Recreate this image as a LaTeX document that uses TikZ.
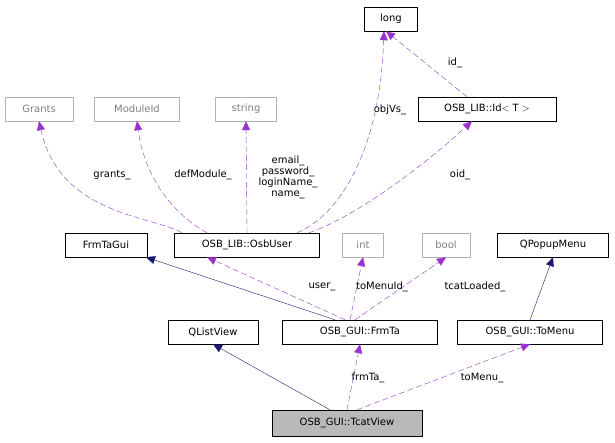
\documentclass[tikz,border=0pt]{standalone}
\usepackage{fontspec}
\setmainfont{DejaVu Sans}
\usetikzlibrary{arrows.meta}
\definecolor{pur}{HTML}{9A32CD}
\definecolor{nav}{HTML}{191970}
\begin{document}
\begin{tikzpicture}[x=1pt,y=-1pt,font=\fontsize{10}{11}\selectfont,
  box/.style={draw=black,fill=white,minimum height=24pt,inner sep=2pt},
  gbox/.style={draw=gray!60,text=gray,fill=white,minimum height=24pt,inner sep=2pt},
  use/.style={pur,dashed,dash pattern=on 6pt off 3pt,-{Triangle[length=9pt,width=8pt]}},
  inh/.style={nav,-{Triangle[length=9pt,width=8pt]}},
  lab/.style={text=black,align=center,font=\fontsize{10}{11}\selectfont}]
\useasboundingbox (0,0) rectangle (615,443);
\node[box,minimum width=53pt] (long) at (391,19) {long};
\node[box,minimum width=138pt] (id) at (487,109) {OSB\_LIB::Id$<$ T $>$};
\node[gbox,minimum width=68pt] (grants) at (39,109) {Grants};
\node[gbox,minimum width=85pt] (mod) at (137,109) {ModuleId};
\node[gbox,minimum width=61pt] (str) at (246,109) {string};
\node[box,minimum width=82pt] (gui) at (106,245) {FrmTaGui};
\node[box,minimum width=145pt] (user) at (247,245) {OSB\_LIB::OsbUser};
\node[gbox,minimum width=41pt] (int) at (363,245) {int};
\node[gbox,minimum width=48pt] (bool) at (446,245) {bool};
\node[box,minimum width=111pt] (qpm) at (553,245) {QPopupMenu};
\node[box,minimum width=90pt] (qlv) at (213,332) {QListView};
\node[box,minimum width=155pt] (frm) at (360,332) {OSB\_GUI::FrmTa};
\node[box,minimum width=145pt] (tom) at (530,332) {OSB\_GUI::ToMenu};
\node[box,fill=gray!55,minimum width=150pt,minimum height=26pt] (tcv) at (347,423) {OSB\_GUI::TcatView};

\draw[use] ([xshift=-20pt]id.north) -- ([xshift=-5pt]long.south);
\draw[use] ([xshift=50pt]user.north) .. controls (340,215) and (380,150) .. ([xshift=-7pt]long.south);
\draw[use] ([xshift=62pt]user.north) .. controls (360,215) and (430,160) .. ([xshift=-15pt]id.south);
\draw[use] ([xshift=-65pt]user.north) .. controls (150,215) and (60,215) .. (grants.south);
\draw[use] ([xshift=-40pt]user.north) .. controls (175,215) and (145,180) .. (mod.south);
\draw[use] (user.north) -- (str.south);
\draw[inh] ([xshift=-25pt]frm.north) -- ([xshift=40pt]gui.south);
\draw[use] ([xshift=-15pt]frm.north) -- ([xshift=-40pt]user.south);
\draw[use] ([xshift=-10pt]frm.north) -- (int.south);
\draw[use] ([xshift=-5pt]frm.north) -- (bool.south);
\draw[inh] (tom.north) -- (qpm.south);
\draw[inh] ([xshift=-17pt]tcv.north) -- (qlv.south);
\draw[use] (tcv.north) -- (frm.south);
\draw[use] ([xshift=10pt]tcv.north) -- (tom.south);

\node[lab] (l1) at (455,63) {id\_};
\node[lab] (l2) at (390,110) {objVs\_};
\node[lab] (l3) at (460,175) {oid\_};
\node[lab] (l4) at (112,175) {grants\_};
\node[lab] (l5) at (203,175) {defModule\_};
\node[lab] (l6) at (288,177) {email\_\\password\_\\loginName\_\\name\_};
\node[lab] (l7) at (322,287) {user\_};
\node[lab] (l8) at (382,287) {toMenuId\_};
\node[lab] (l9) at (475,287) {tcatLoaded\_};
\node[lab] (l10) at (368,378) {frmTa\_};
\node[lab] (l11) at (482,378) {toMenu\_};
\end{tikzpicture}
\end{document}
